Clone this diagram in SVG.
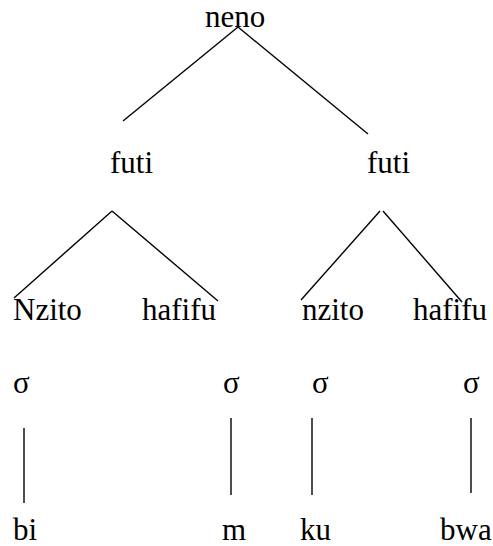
<svg xmlns="http://www.w3.org/2000/svg" width="493" height="546" viewBox="0 0 493 546">
<style>
text{font-family:"Liberation Serif","Times New Roman",serif;font-size:31px;fill:#000}
line{stroke:#000;stroke-width:1.4}
</style>
<rect width="493" height="546" fill="#fff"/>
<g id="connectors">
<line x1="238" y1="27" x2="123" y2="121"/>
<line x1="238" y1="27" x2="368" y2="134"/>
<line x1="112" y1="211" x2="14" y2="298"/>
<line x1="112" y1="211" x2="218" y2="301"/>
<line x1="380" y1="211" x2="301" y2="300"/>
<line x1="383" y1="211" x2="462" y2="302"/>
<line x1="24" y1="428" x2="24" y2="503"/>
<line x1="231" y1="418" x2="231" y2="495"/>
<line x1="312" y1="418" x2="312" y2="495"/>
<line x1="471" y1="418" x2="471" y2="493"/>
</g>
<g id="neno"><text x="205" y="27">neno</text></g>
<g id="futi1"><text x="110" y="173">futi</text></g>
<g id="futi2"><text x="367" y="173">futi</text></g>
<g id="Nzito"><text x="13" y="320">Nzito</text></g>
<g id="hafifu1"><text x="142" y="320">hafifu</text></g>
<g id="nzito"><text x="302" y="320">nzito</text></g>
<g id="hafifu2"><text x="413" y="320">hafifu</text></g>
<g id="sigma1"><text x="13" y="393">σ</text></g>
<g id="sigma2"><text x="223" y="393">σ</text></g>
<g id="sigma3"><text x="312" y="393">σ</text></g>
<g id="sigma4"><text x="463" y="393">σ</text></g>
<g id="bi"><text x="13" y="540">bi</text></g>
<g id="m"><text x="222" y="540">m</text></g>
<g id="ku"><text x="300" y="540">ku</text></g>
<g id="bwa"><text x="440" y="540">bwa</text></g>
</svg>
